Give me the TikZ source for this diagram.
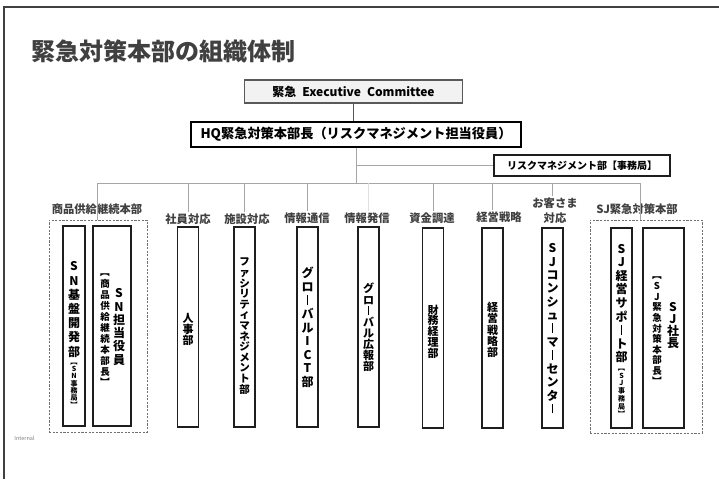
\documentclass[tikz,border=0pt]{standalone}
\usepackage{fontspec}
\usepackage{graphicx}
\setmainfont{Noto Sans CJK JP}
\definecolor{framecol}{HTML}{404040}
\definecolor{titlecol}{HTML}{404040}
\definecolor{execfill}{HTML}{F2F2F2}
\definecolor{execdraw}{HTML}{595959}
\definecolor{conncol}{HTML}{A6A6A6}
\definecolor{faintcol}{HTML}{E0E0E0}
\definecolor{boxcol}{HTML}{1E1E1E}
\definecolor{grpcol}{HTML}{707070}
\definecolor{lblcol}{HTML}{404040}
\setlength\lineskiplimit{-20pt}
\newcommand\fs[2]{\fontsize{#1}{#2}\selectfont}
\newcommand\vb{\rule{0.1em}{0.8em}}
\newcommand\vlb{\rotatebox[origin=c]{-90}{【}}
\newcommand\vrb{\rotatebox[origin=c]{-90}{】}}
\tikzset{
  frameline/.style={draw=framecol, line width=1.5pt},
  conn/.style={draw=conncol, line width=0.9pt},
  faintconn/.style={draw=faintcol, line width=0.9pt},
  execline/.style={draw=execdraw, line width=1.8pt},
  execbox/.style={draw=execdraw, fill=execfill, line width=1.5pt, inner sep=0,
    font=\fs{12}{14}\bfseries},
  hqbox/.style={draw=black, line width=2pt, fill=white, inner sep=0,
    font=\fs{13.2}{16}\bfseries},
  riskbox/.style={draw=boxcol, line width=1.4pt, fill=white, inner sep=0,
    font=\fs{10}{12}\bfseries},
  vbox/.style={draw=boxcol, line width=1.6pt, minimum height=200, inner sep=0},
  grp/.style={draw=grpcol, line width=0.8pt, dash pattern=on 2.2pt off 1.4pt, inner sep=0},
  lbl/.style={text=lblcol, inner sep=1pt, font=\fs{11.3}{15}\bfseries},
  vt/.style={align=center, inner sep=0, text=black},
}
\begin{document}
\begin{tikzpicture}[x=1pt,y=-1pt]
\useasboundingbox (0,0) rectangle (719,479);
% frame
\coordinate (fTL) at (4,7);
\coordinate (fTR) at (719,7);
\coordinate (fBL) at (4,479);
\draw[frameline] (fTR) -- (fTL) -- (fBL);
% title
\node[font=\fs{24}{26}\bfseries, text=titlecol, anchor=west, inner sep=0] (title) at (31,51) {緊急対策本部の組織体制};
\node[font=\fs{5.5}{6}, text=gray, inner sep=0] (internal) at (24.5,438) {Internal};
% top boxes
\node[execbox, minimum width=218, minimum height=23] (exec) at (353.5,91.5) {緊急\hspace{0.5em}Executive\hspace{0.5em}Committee};
\node[hqbox, minimum width=330, minimum height=25] (hq) at (356,134.5) {HQ緊急対策本部長（リスクマネジメント担当役員）};
\node[riskbox, minimum width=176, minimum height=21] (risk) at (582,165.5) {リスクマネジメント部【事務局】};
\draw[execline] (exec.south) -- (exec.south |- hq.north);
% bus
\coordinate (busL) at (97,183);
\coordinate (busR) at (640,183);
\draw[conn] (hq.south) -- (hq.south |- busL);
\draw[conn] (hq.south |- risk.west) -- (risk.west);
\draw[conn] (busL) -- (busR);
% groups
\node[grp, minimum width=98, minimum height=212] (g1) at (98,326) {};
\node[grp, minimum width=112, minimum height=213] (g2) at (646,326.5) {};
% vertical boxes
\node[vbox, minimum width=22] (b1) at (74,326) {};
\node[vbox, minimum width=38] (b2) at (112,326) {};
\node[vbox, minimum width=21] (b3) at (188,327) {};
\node[vbox, minimum width=21] (b4) at (244.5,327) {};
\node[vbox, minimum width=21] (b5) at (307.5,327) {};
\node[vbox, minimum width=21] (b6) at (368.5,327) {};
\node[vbox, minimum width=21] (b7) at (433,328) {};
\node[vbox, minimum width=21] (b8) at (492.5,328) {};
\node[vbox, minimum width=21] (b9) at (552.5,328) {};
\node[vbox, minimum width=21] (b10) at (621.5,328) {};
\node[vbox, minimum width=41] (b11) at (663.5,328) {};
% labels
\node[lbl] (l1) at (97,209) {商品供給継続本部};
\node[lbl] (l3) at (188,219) {社員対応};
\node[lbl] (l4) at (247,219) {施設対応};
\node[lbl] (l5) at (307,218) {情報通信};
\node[lbl] (l6) at (367,218) {情報発信};
\node[lbl] (l7) at (432,218) {資金調達};
\node[lbl] (l8) at (499,217) {経営戦略};
\node[lbl, align=center] (l9) at (555,210.5) {お客さま\\対応};
\node[lbl] (l10) at (637,209) {SJ緊急対策本部};
% drops
\draw[conn] (busL) -- (busL |- g1.north);
\draw[conn] (busR) -- (busR |- g2.north);
\draw[conn] (b3.north |- busL) -- (b3.north |- l3.north);
\draw[conn] (b4.north |- busL) -- (b4.north |- l4.north);
\draw[conn] (b5.north |- busL) -- (b5.north |- l5.north);
\draw[faintconn] (b6.north |- busL) -- (b6.north |- l6.north);
\draw[conn] (b7.north |- busL) -- (b7.north |- l7.north);
\draw[conn] (b8.north |- busL) -- (b8.north |- l8.north);
\draw[conn] (b9.north |- busL) -- (b9.north |- l9.north);
% vertical texts
\node[vt, font=\fs{12}{14.2}\bfseries] (t1) at (74,309.5) {S\\N\\基\\盤\\開\\発\\部};
\node[vt, font=\fs{7}{7.2}\bfseries] (t1s) at (74,383.5) {\vlb\\S\\N\\事\\務\\局\\\vrb};
\node[vt, font=\fs{12}{13.3}\bfseries] (t2) at (119,327) {S\\N\\担\\当\\役\\員};
\node[vt, font=\fs{9.5}{11}\bfseries] (t2s) at (105,327.5) {\vlb\\商\\品\\供\\給\\継\\続\\本\\部\\長\\\vrb};
\node[vt, font=\fs{11}{11}\bfseries] (t3) at (188,329) {人\\事\\部};
\node[vt, font=\fs{10.5}{10.6}\bfseries] (t4) at (244.5,326) {フ\\ァ\\シ\\リ\\テ\\ィ\\マ\\ネ\\ジ\\メ\\ン\\ト\\部};
\node[vt, font=\fs{12}{13.6}\bfseries] (t5) at (307.5,327.5) {グ\\ロ\\\vb\\バ\\ル\\I\\C\\T\\部};
\node[vt, font=\fs{11}{11.1}\bfseries] (t6) at (368.5,327.5) {グ\\ロ\\\vb\\バ\\ル\\広\\報\\部};
\node[vt, font=\fs{11}{10.8}\bfseries] (t7) at (433,331.5) {財\\務\\経\\理\\部};
\node[vt, font=\fs{11}{11.2}\bfseries] (t8) at (492.5,330) {経\\営\\戦\\略\\部};
\node[vt, font=\fs{12}{13.4}\bfseries] (t9) at (552.5,328.5) {S\\J\\コ\\ン\\シ\\ュ\\\vb\\マ\\\vb\\セ\\ン\\タ\\\vb};
\node[vt, font=\fs{12}{13.6}\bfseries] (t10) at (621.5,303.5) {S\\J\\経\\営\\サ\\ポ\\\vb\\ト\\部};
\node[vt, font=\fs{7}{7.8}\bfseries] (t10s) at (621.5,391) {\vlb\\S\\J\\事\\務\\局\\\vrb};
\node[vt, font=\fs{12}{12.3}\bfseries] (t11) at (673,325.5) {S\\J\\社\\長};
\node[vt, font=\fs{9.5}{10.6}\bfseries] (t11s) at (657,328.5) {\vlb\\S\\J\\緊\\急\\対\\策\\本\\部\\長\\\vrb};
\end{tikzpicture}
\end{document}
